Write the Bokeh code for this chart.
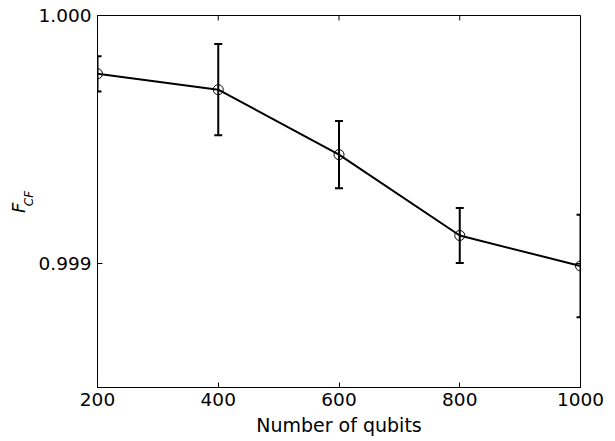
import math
from bokeh.plotting import figure
from bokeh.models import Range1d, FixedTicker, PrintfTickFormatter, LinearAxis
from bokeh.embed import file_html
from bokeh.resources import INLINE

qubits = [200, 400, 600, 800, 1000]
fidelity = [0.999765, 0.999701, 0.999439, 0.999113, 0.998990]
errors = [0.000071, 0.000184, 0.000136, 0.000111, 0.000207]
x_ticks = [200, 400, 600, 800, 1000]
y_ticks = [0.999, 1.000]

FONT = "DejaVu Sans"
X0, X1 = 200, 1000
Y0, Y1 = 0.9985, 1.000

p = figure(width=610, height=438, output_backend="svg", toolbar_location=None,
           x_range=Range1d(X0, X1), y_range=Range1d(Y0, Y1),
           min_border_left=97, min_border_right=30, min_border_top=15, min_border_bottom=46)
p.background_fill_color = "white"
p.border_fill_color = "white"
p.grid.visible = False
p.outline_line_color = "black"
p.outline_line_width = 1

lower = [f - e for f, e in zip(fidelity, errors)]
upper = [f + e for f, e in zip(fidelity, errors)]

p.segment(x0=qubits, y0=lower, x1=qubits, y1=upper, line_color="black", line_width=2)
p.dash(x=qubits, y=lower, size=8, line_color="black", line_width=2)
p.dash(x=qubits, y=upper, size=8, line_color="black", line_width=2)
p.line(qubits, fidelity, line_color="black", line_width=2)
p.scatter(qubits, fidelity, marker="circle", size=10, fill_color=None, line_color="black", line_width=1)

# inward ticks on the top and right edges
p.ray(x=x_ticks, y=[Y1] * len(x_ticks), length=5, length_units="screen",
      angle=-math.pi / 2, line_color="black", line_width=1)
p.ray(x=[X1] * len(y_ticks), y=y_ticks, length=5, length_units="screen",
      angle=math.pi, line_color="black", line_width=1)

for ax in (p.xaxis[0], p.yaxis[0]):
    ax.major_tick_in = 5
    ax.major_tick_out = 0
    ax.minor_tick_in = 0
    ax.minor_tick_out = 0
    ax.axis_line_color = "black"
    ax.major_tick_line_color = "black"
    ax.major_label_text_font = FONT
    ax.major_label_text_font_size = "18.5px"
    ax.major_label_text_color = "black"

p.xaxis[0].ticker = FixedTicker(ticks=x_ticks)
p.yaxis[0].ticker = FixedTicker(ticks=y_ticks)
p.yaxis[0].formatter = PrintfTickFormatter(format="%.3f")
p.xaxis[0].major_label_standoff = 5
p.yaxis[0].major_label_standoff = 6
p.xaxis[0].axis_label = "Number of qubits"
p.xaxis[0].axis_label_text_font = FONT
p.xaxis[0].axis_label_text_font_size = "19px"
p.xaxis[0].axis_label_text_font_style = "normal"
p.xaxis[0].axis_label_text_color = "black"
p.xaxis[0].axis_label_standoff = 5

# y label F_CF: subscript "CF" on the main axis, "F" on an outer label-only axis
p.yaxis[0].axis_label = "\u2002CF"
p.yaxis[0].axis_label_text_font = FONT
p.yaxis[0].axis_label_text_font_size = "12px"
p.yaxis[0].axis_label_text_font_style = "italic"
p.yaxis[0].axis_label_text_color = "black"
p.yaxis[0].axis_label_standoff = 0

outer = LinearAxis(ticker=FixedTicker(ticks=[]), axis_line_color=None,
                   major_tick_line_color=None, minor_tick_line_color=None,
                   axis_label="F\u2002\u2009", axis_label_text_font=FONT,
                   axis_label_text_font_size="18px", axis_label_text_font_style="italic",
                   axis_label_text_color="black", axis_label_standoff=-10)
p.add_layout(outer, "left")

open("out.html", "w").write(file_html(p, INLINE))
